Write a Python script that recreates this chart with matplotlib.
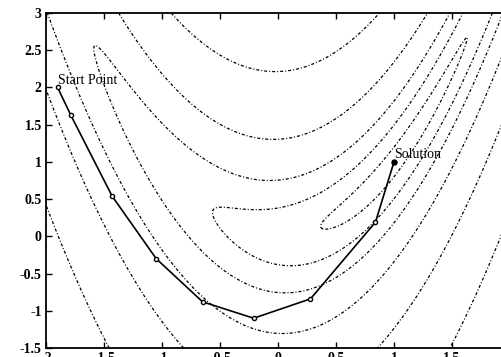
import matplotlib
matplotlib.use("Agg")
import matplotlib.pyplot as plt
import numpy as np

# Banana-function contour levels and surface coefficient
CURV = 10.0
LEVELS = [0.4, 2.45, 6.7, 18.0, 50.0, 137.0]

# Iterates of the optimiser, start point to solution
PATH_X = [-1.9, -1.787, -1.43, -1.05, -0.65, -0.21, 0.28, 0.84, 1.0]
PATH_Y = [2.0, 1.63, 0.54, -0.30, -0.88, -1.10, -0.84, 0.19, 1.0]

X_TICKS = [-2, -1.5, -1, -0.5, 0, 0.5, 1, 1.5, 2]
Y_TICKS = [-1.5, -1, -0.5, 0, 0.5, 1, 1.5, 2, 2.5, 3]


def main():
    plt.rcParams["font.family"] = ["Liberation Serif", "DejaVu Serif"]

    fig = plt.figure(figsize=(5.02, 3.57), dpi=100)
    # axes run a little past the right edge, as in the scanned original
    ax = fig.add_axes([46 / 502, 9 / 357, 464 / 502, 335 / 357])

    xx = np.linspace(-2, 2, 400)
    yy = np.linspace(-1.5, 3, 400)
    gx, gy = np.meshgrid(xx, yy)
    gz = CURV * (gy - gx ** 2) ** 2 + (1 - gx) ** 2

    ax.contour(gx, gy, gz, levels=LEVELS, colors="k", linewidths=0.9,
               linestyles=[(0, (2.4, 1.6, 0.8, 1.6))])

    ax.plot(PATH_X, PATH_Y, "-", color="k", linewidth=1.2, zorder=3)
    ax.plot(PATH_X[:-1], PATH_Y[:-1], "o", color="k", markerfacecolor="white",
            markersize=3.0, markeredgewidth=1.0, zorder=4)
    ax.plot(PATH_X[-1], PATH_Y[-1], "o", color="k", markersize=3.6, zorder=4)

    ax.text(PATH_X[0], PATH_Y[0] + 0.01, "Start Point", fontsize=10,
            ha="left", va="bottom")
    ax.text(PATH_X[-1], PATH_Y[-1] + 0.01, "Solution", fontsize=10,
            ha="left", va="bottom")

    ax.set_xlim(-2, 2)
    ax.set_ylim(-1.5, 3)
    ax.set_xticks(X_TICKS)
    ax.set_yticks(Y_TICKS)
    ax.set_xticklabels([f"{v:g}" for v in X_TICKS])
    ax.set_yticklabels([f"{v:g}" for v in Y_TICKS])
    ax.tick_params(direction="in", top=True, right=True, length=4,
                   width=1.0, labelsize=10, pad=3)
    for lab in ax.get_xticklabels() + ax.get_yticklabels():
        lab.set_fontweight("bold")
    for sp in ax.spines.values():
        sp.set_linewidth(1.3)

    fig.savefig("out.png", dpi=100)
    plt.close(fig)


if __name__ == "__main__":
    main()
